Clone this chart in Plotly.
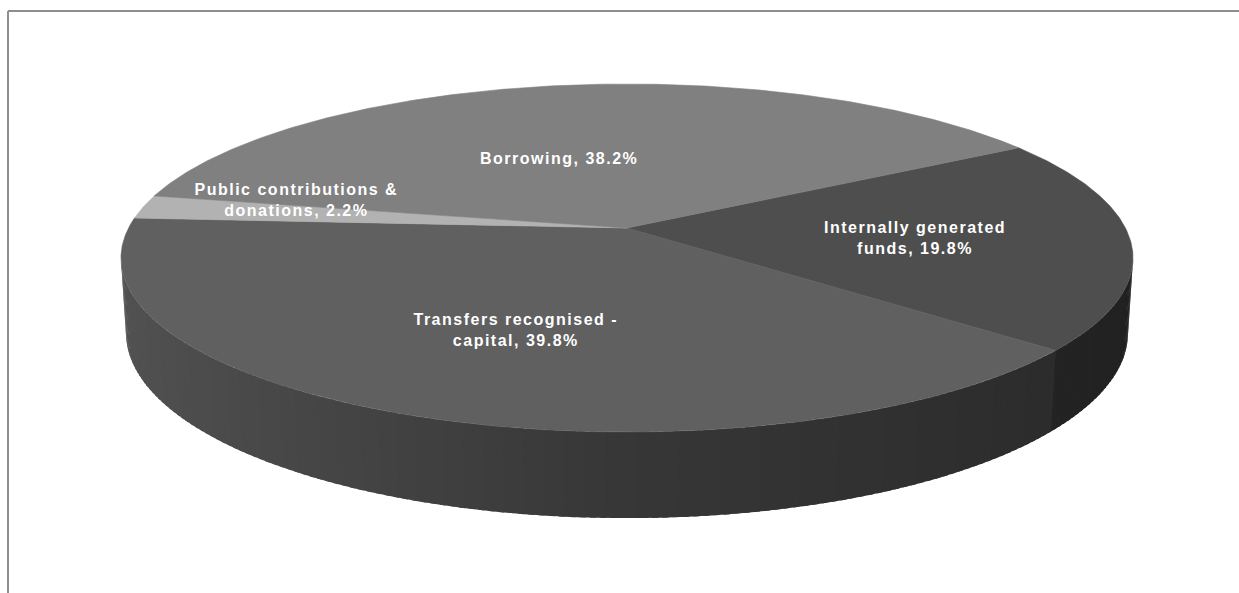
import numpy as np
import plotly.graph_objects as go

# ---- data -------------------------------------------------------------
names = [
    "Internally generated<br>funds",
    "Transfers recognised -<br>capital",
    "Public contributions &<br>donations",
    "Borrowing",
]
shares = [19.8, 39.8, 2.2, 38.2]

# ---- styling ------------------------------------------------------------
top_colors = ["#4e4e4e", "#606060", "#b2b2b2", "#808080"]
label_radius = [0.575, 0.584, 0.703, 0.47]
label_shift_deg = [1.3, -1.5, 6.7, -8.3]

W, H = 1239, 593
CX, CY = 627.0, 228.0          # screen position of the pie centre
FOCAL = 2720.0                 # perspective focal scale
DIST = 5.457                   # camera distance in pie radii
TILT = np.radians(19.8)        # camera elevation
THICK = 0.158                  # pie thickness in pie radii
START_DEG = -31.15             # angle where the first slice begins
COS_T, SIN_T = np.cos(TILT), np.sin(TILT)


def project(theta, r=1.0, z=0.0):
    """Perspective projection of a point on the pie disc to screen pixels."""
    X = r * np.cos(theta)
    Y = r * np.sin(theta)
    d = DIST - Y * COS_T - z * SIN_T
    u = FOCAL * X / d
    v = FOCAL * (-Y * SIN_T + z * COS_T) / d
    return CX + u, CY - v


def shade(base_hex, theta):
    """Side-wall brightness: light from the left, darker to the right."""
    c = np.cos(theta)
    f = 0.57 + 0.29 * (-c) if c < 0 else 0.57 - 0.15 * c
    g = int(base_hex[1:3], 16)
    val = int(round(min(255, g * f)))
    return f"rgb({val},{val},{val})"


fig = go.Figure()

# slice boundaries (radians)
cum = np.concatenate([[0.0], np.cumsum(shares)])
bounds = np.radians(START_DEG + 360.0 * cum / cum[-1])

# ---- side walls (front-facing part only) ---------------------------------
k = 1.0 / (DIST * COS_T)
vis_lo, vis_hi = np.arcsin(k), np.pi - np.arcsin(k)
step = np.radians(1.0)
for i in range(len(shares)):
    for shift in (-2 * np.pi, 0.0, 2 * np.pi):
        a0 = max(bounds[i] + shift, vis_lo)
        a1 = min(bounds[i + 1] + shift, vis_hi)
        if a1 <= a0:
            continue
        n = max(1, int(np.ceil((a1 - a0) / step)))
        edges = np.linspace(a0, a1, n + 1)
        for t0, t1 in zip(edges[:-1], edges[1:]):
            t_end = min(t1 + 0.6 * step, vis_hi)   # overlap hides seams
            ts = np.linspace(t0, t_end, 4)
            xt, yt = project(ts, 1.0, 0.0)
            xb, yb = project(ts[::-1], 1.0, -THICK)
            col = shade(top_colors[i], 0.5 * (t0 + t1))
            fig.add_trace(go.Scatter(
                x=np.concatenate([xt, xb]), y=np.concatenate([yt, yb]),
                mode="lines", fill="toself", fillcolor=col,
                line=dict(width=0), hoverinfo="skip", showlegend=False,
            ))

# ---- top faces -----------------------------------------------------------
cx0, cy0 = project(0.0, 0.0)
for i in range(len(shares)):
    a0, a1 = bounds[i], bounds[i + 1]
    n = max(8, int(np.ceil((a1 - a0) / np.radians(0.5))))
    ts = np.linspace(a0, a1, n + 1)
    xa, ya = project(ts)
    fig.add_trace(go.Scatter(
        x=np.concatenate([[cx0], xa, [cx0]]),
        y=np.concatenate([[cy0], ya, [cy0]]),
        mode="lines", fill="toself", fillcolor=top_colors[i],
        line=dict(color=top_colors[i], width=0.6),
        name=names[i].replace("<br>", " "), hoverinfo="name", showlegend=False,
    ))

# ---- data labels ---------------------------------------------------------
for i in range(len(shares)):
    mid = 0.5 * (bounds[i] + bounds[i + 1]) + np.radians(label_shift_deg[i])
    lx, ly = project(mid, label_radius[i])
    fig.add_annotation(
        x=float(lx), y=float(ly), xref="x", yref="y",
        text=f"<b>{names[i]}, {shares[i]:.1f}%</b>",
        showarrow=False, align="center",
        font=dict(family="Liberation Sans, Arial, sans-serif", size=16, color="white"),
    )

# ---- chart frame ---------------------------------------------------------
frame = dict(color="#8f8f8f", width=2)
fig.add_shape(type="line", xref="x", yref="y", x0=8, y0=11, x1=W, y1=11, line=frame)
fig.add_shape(type="line", xref="x", yref="y", x0=8, y0=11, x1=8, y1=H, line=frame)

fig.update_layout(
    width=W, height=H,
    margin=dict(l=0, r=0, t=0, b=0),
    paper_bgcolor="white", plot_bgcolor="white",
    xaxis=dict(range=[0, W], visible=False, fixedrange=True),
    yaxis=dict(range=[H, 0], visible=False, fixedrange=True),
    showlegend=False,
)

# widen the label lettering slightly, as in spreadsheet-rendered labels
spacing_js = """
var gd = document.getElementById('{plot_id}');
function spaceLabels() {
  gd.querySelectorAll('.annotation-text').forEach(function (t) {
    t.style.letterSpacing = '1.5px';
  });
}
spaceLabels();
gd.on('plotly_afterplot', spaceLabels);
"""

fig.write_html("out.html", post_script=spacing_js)
